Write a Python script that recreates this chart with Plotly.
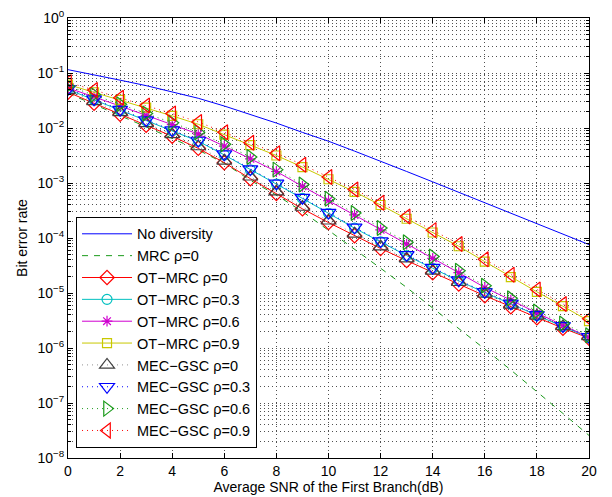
import plotly.graph_objects as go

snr = list(range(0, 21))

no_div = [1.15e-1, 9.33e-2, 7.41e-2, 5.89e-2, 4.57e-2, 3.47e-2, 2.51e-2, 1.78e-2, 1.23e-2, 8.32e-3,
          5.75e-3, 3.80e-3, 2.51e-3, 1.62e-3, 1.05e-3, 6.76e-4, 4.37e-4, 2.82e-4, 1.82e-4, 1.17e-4, 7.59e-5]
mrc0 = [4.27e-2, 2.69e-2, 1.70e-2, 1.05e-2, 6.46e-3, 3.98e-3, 2.29e-3, 1.12e-3, 6.03e-4, 3.02e-4,
        1.38e-4, 6.31e-5, 2.82e-5, 1.26e-5, 5.37e-6, 2.29e-6, 9.55e-7, 3.98e-7, 1.62e-7, 6.46e-8, 2.57e-8]
ot0 = [4.47e-2, 2.82e-2, 1.78e-2, 1.12e-2, 7.08e-3, 4.27e-3, 2.34e-3, 1.20e-3, 6.46e-4, 3.39e-4,
       1.91e-4, 1.10e-4, 6.46e-5, 3.89e-5, 2.34e-5, 1.45e-5, 8.91e-6, 5.62e-6, 3.55e-6, 2.29e-6, 1.51e-6]
ot3 = [5.01e-2, 3.24e-2, 2.09e-2, 1.35e-2, 8.91e-3, 5.75e-3, 3.24e-3, 1.74e-3, 9.55e-4, 5.25e-4,
       2.82e-4, 1.51e-4, 8.51e-5, 4.79e-5, 2.82e-5, 1.66e-5, 1.02e-5, 6.31e-6, 3.89e-6, 2.45e-6, 1.55e-6]
ot6 = [5.37e-2, 3.72e-2, 2.51e-2, 1.70e-2, 1.15e-2, 7.76e-3, 4.68e-3, 2.75e-3, 1.62e-3, 8.71e-4,
       4.79e-4, 2.63e-4, 1.41e-4, 7.76e-5, 4.27e-5, 2.34e-5, 1.26e-5, 7.41e-6, 4.27e-6, 2.57e-6, 1.58e-6]
ot9 = [6.17e-2, 4.47e-2, 3.24e-2, 2.34e-2, 1.66e-2, 1.17e-2, 7.59e-3, 4.90e-3, 3.16e-3, 1.95e-3,
       1.17e-3, 6.92e-4, 3.98e-4, 2.24e-4, 1.26e-4, 7.08e-5, 3.72e-5, 1.95e-5, 1.05e-5, 5.75e-6, 3.09e-6]
mec0 = [4.83e-2, 3.05e-2, 1.92e-2, 1.21e-2, 7.65e-3, 4.61e-3, 2.53e-3, 1.30e-3, 6.98e-4, 3.66e-4,
        2.06e-4, 1.19e-4, 6.98e-5, 4.20e-5, 2.53e-5, 1.57e-5, 9.62e-6, 6.07e-6, 3.83e-6, 2.47e-6, 1.63e-6]
mec3 = [5.16e-2, 3.34e-2, 2.15e-2, 1.39e-2, 9.18e-3, 5.92e-3, 3.34e-3, 1.79e-3, 9.84e-4, 5.41e-4,
        2.90e-4, 1.56e-4, 8.77e-5, 4.93e-5, 2.90e-5, 1.71e-5, 1.05e-5, 6.50e-6, 4.01e-6, 2.52e-6, 1.60e-6]
mec6 = [5.80e-2, 4.02e-2, 2.71e-2, 1.84e-2, 1.24e-2, 8.38e-3, 5.05e-3, 2.97e-3, 1.75e-3, 9.41e-4,
        5.17e-4, 2.84e-4, 1.52e-4, 8.38e-5, 4.61e-5, 2.53e-5, 1.36e-5, 8.00e-6, 4.61e-6, 2.78e-6, 1.71e-6]
mec9 = [6.79e-2, 4.92e-2, 3.56e-2, 2.57e-2, 1.83e-2, 1.29e-2, 8.35e-3, 5.39e-3, 3.48e-3, 2.15e-3,
        1.29e-3, 7.61e-4, 4.38e-4, 2.46e-4, 1.39e-4, 7.79e-5, 4.09e-5, 2.15e-5, 1.16e-5, 6.33e-6, 3.40e-6]

y_exps = list(range(-8, 1))
y_tickvals = [10.0 ** e for e in y_exps]
y_ticktext = ["10<sup>%s</sup>" % (str(e).replace("-", "\u2212")) for e in y_exps]
y_minor = [m * 10.0 ** e for e in range(-8, 0) for m in range(2, 10)]

fig = go.Figure()

def add(name, y, color, dash="solid", symbol=None, msize=9, lcolor=None):
    mode = "lines" if symbol is None else "lines+markers"
    tr = go.Scatter(
        x=snr, y=y, name=name, mode=mode,
        line=dict(color=lcolor or color, width=1, dash=dash),
    )
    if symbol is not None:
        tr.marker = dict(symbol=symbol, size=msize, color=color,
                         line=dict(color=color, width=1.2))
    fig.add_trace(tr)

add("No diversity", no_div, "#0000ff")
add("MRC \u03c1=0", mrc0, "#1a9a1a", dash="6px,6px")
add("OT\u2212MRC \u03c1=0", ot0, "#ff0000", symbol="diamond-open", msize=11)
add("OT\u2212MRC \u03c1=0.3", ot3, "#00c0c0", symbol="circle-open", msize=10)
add("OT\u2212MRC \u03c1=0.6", ot6, "#d000d0", symbol="asterisk-open", msize=9)
add("OT\u2212MRC \u03c1=0.9", ot9, "#c8c800", symbol="square-open", msize=9)
add("MEC\u2212GSC \u03c1=0", mec0, "#404040", dash="1px,4px", symbol="triangle-up-open", msize=13, lcolor="#909090")
add("MEC\u2212GSC \u03c1=0.3", mec3, "#0000ff", dash="1px,4px", symbol="triangle-down-open", msize=13)
add("MEC\u2212GSC \u03c1=0.6", mec6, "#1a9a1a", dash="1px,4px", symbol="triangle-right-open", msize=13)
add("MEC\u2212GSC \u03c1=0.9", mec9, "#ff0000", dash="1px,4px", symbol="triangle-left-open", msize=13)

font = "Liberation Sans, Arial, Helvetica, sans-serif"
grid_kw = dict(showgrid=True, gridcolor="#505050", griddash="1px,3px", gridwidth=1)

# the page body adds an 8px offset, so the figure is 8px smaller and margins are shifted
fig.update_layout(
    width=604, height=489,
    margin=dict(l=60, r=23, t=10, b=39, autoexpand=False),
    paper_bgcolor="white", plot_bgcolor="white",
    font=dict(family=font, size=14, color="black"),
    showlegend=True,
    legend=dict(x=0.0154, y=0.548, xanchor="left", yanchor="top",
                bgcolor="white", bordercolor="black", borderwidth=1,
                itemwidth=50,
                font=dict(size=14.5, family=font), tracegroupgap=0),
)
fig.update_xaxes(
    range=[0, 20], dtick=2, tick0=0, automargin=False,
    ticks="inside", ticklen=5, tickcolor="black",
    showline=True, linecolor="black", linewidth=1, mirror="allticks",
    zeroline=False, ticklabeloverflow="allow",
    title=dict(text="Average SNR of the First Branch(dB)", standoff=2, font=dict(size=14)),
    tickfont=dict(size=14),
    **grid_kw,
)
fig.update_yaxes(
    type="log", range=[-8, 0], automargin=False,
    tickmode="array", tickvals=y_tickvals, ticktext=y_ticktext,
    ticks="inside", ticklen=5, tickcolor="black",
    showline=True, linecolor="black", linewidth=1, mirror="allticks",
    zeroline=False, ticklabeloverflow="allow",
    title=dict(text="Bit error rate", standoff=6, font=dict(size=14)),
    tickfont=dict(size=14),
    minor=dict(tickmode="array", tickvals=y_minor, ticks="inside", ticklen=3,
               tickcolor="black", showgrid=True, gridcolor="#505050",
               griddash="1px,3px", gridwidth=1),
    **grid_kw,
)

fig.write_html("out.html")
